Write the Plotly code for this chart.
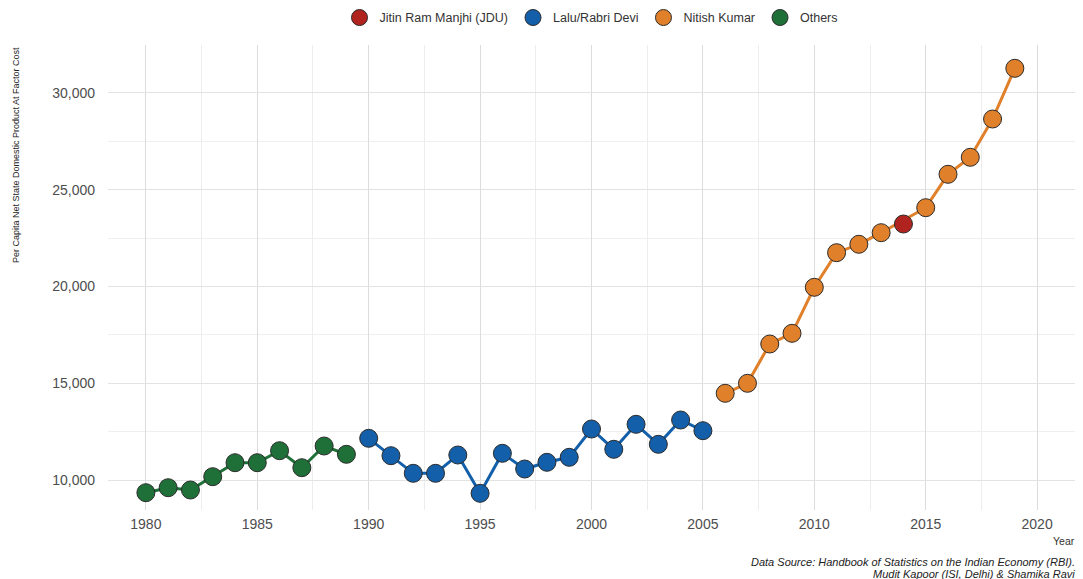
import plotly.graph_objects as go

# Data
years_others = [1980, 1981, 1982, 1983, 1984, 1985, 1986, 1987, 1988, 1989]
vals_others = [9344, 9602, 9483, 10171, 10894, 10894, 11514, 10636, 11757, 11328]

years_lalu = [1990, 1991, 1992, 1993, 1994, 1995, 1996, 1997, 1998, 1999,
              2000, 2001, 2002, 2003, 2004, 2005]
vals_lalu = [12155, 11256, 10346, 10346, 11292, 9313, 11380, 10568, 10915, 11173,
             12636, 11587, 12878, 11845, 13101, 12548]

years_nitish = [2006, 2007, 2008, 2009, 2010, 2011, 2012, 2013,
                2015, 2016, 2017, 2018, 2019]
vals_nitish = [14481, 14997, 17028, 17581, 19959, 21747, 22181, 22780,
               24072, 25798, 26677, 28656, 31276]

years_manjhi = [2014]
vals_manjhi = [23230]

series = [
    ("Jitin Ram Manjhi (JDU)", years_manjhi, vals_manjhi, "#B0231F"),
    ("Lalu/Rabri Devi", years_lalu, vals_lalu, "#135FAA"),
    ("Nitish Kumar", years_nitish, vals_nitish, "#E0802A"),
    ("Others", years_others, vals_others, "#1F7038"),
]

x_ticks = [1980, 1985, 1990, 1995, 2000, 2005, 2010, 2015, 2020]
y_ticks = [10000, 15000, 20000, 25000, 30000]

caption_lines = [
    "Data Source: Handbook of Statistics on the Indian Economy (RBI).",
    "Mudit Kapoor (ISI, Delhi) & Shamika Ravi",
]

fig = go.Figure()

# lines first
for name, xs, ys, col in series:
    if len(xs) > 1:
        fig.add_trace(go.Scatter(x=xs, y=ys, mode="lines",
                                 line=dict(color=col, width=3),
                                 showlegend=False, hoverinfo="skip"))
# then points
for name, xs, ys, col in series:
    fig.add_trace(go.Scatter(x=xs, y=ys, mode="markers", name=name,
                             marker=dict(color=col, size=18,
                                         line=dict(color="#2b2b2b", width=1))))

gray = "#4d4d4d"
fig.update_layout(
    width=1083, height=579,
    margin=dict(l=108, r=8, t=45, b=69),
    plot_bgcolor="white", paper_bgcolor="white",
    font=dict(family="Liberation Sans, Arial, sans-serif", color=gray),
    legend=dict(orientation="h", x=0.5, xanchor="center",
                yref="container", y=0.995, yanchor="top",
                font=dict(size=12.5, color="#333333"),
                itemwidth=30),
    showlegend=True,
)

fig.update_xaxes(
    range=[1978.3, 2021.7], tickvals=x_ticks, ticktext=[str(t) for t in x_ticks],
    showgrid=True, gridcolor="#dcdcdc", gridwidth=1.2, zeroline=False,
    showline=False, ticks="", tickfont=dict(size=14, color=gray),
    ticklabelstandoff=4,
    minor=dict(tickvals=[t + 2.5 for t in [1975] + x_ticks], showgrid=True,
               gridcolor="#ededed", gridwidth=1),
)
fig.update_yaxes(
    range=[8450, 32480], tickvals=y_ticks, tickformat=",",
    showgrid=True, gridcolor="#e3e3e3", gridwidth=1.2, zeroline=False,
    showline=False, ticks="", tickfont=dict(size=14, color=gray),
    ticklabelstandoff=12,
    minor=dict(tickvals=[12500, 17500, 22500, 27500], showgrid=True,
               gridcolor="#efefef", gridwidth=1),
)

plot_h = 579 - 45 - 69
plot_w = 1083 - 108 - 8


def py(pix):
    return (579 - 69 - pix) / plot_h


def px(pix):
    return (pix - 108) / plot_w


# y axis title (top aligned, rotated)
fig.add_annotation(text="Per Capita Net State Domestic Product At Factor Cost",
                   xref="paper", yref="paper", x=px(16), y=1.0,
                   xanchor="center", yanchor="top", textangle=-90,
                   showarrow=False, font=dict(size=9, color="#222222",
                                              family="Liberation Sans Narrow, Liberation Sans, Arial"))
# x axis title
fig.add_annotation(text="Year", xref="paper", yref="paper",
                   x=px(1077), y=py(541), xanchor="right", yanchor="middle",
                   showarrow=False, font=dict(size=10.5, color="#333333"))
# caption (two right-aligned italic lines)
for line, ypix in zip(caption_lines, [562, 574]):
    fig.add_annotation(text="<i>" + line + "</i>",
                       xref="paper", yref="paper", x=px(1077), y=py(ypix),
                       xanchor="right", yanchor="middle", align="right",
                       showarrow=False, font=dict(size=11, color="#222222"))

fig.write_html("out.html", config={"displayModeBar": False},
               post_script="document.body.style.margin='0';document.body.style.overflow='hidden';")
